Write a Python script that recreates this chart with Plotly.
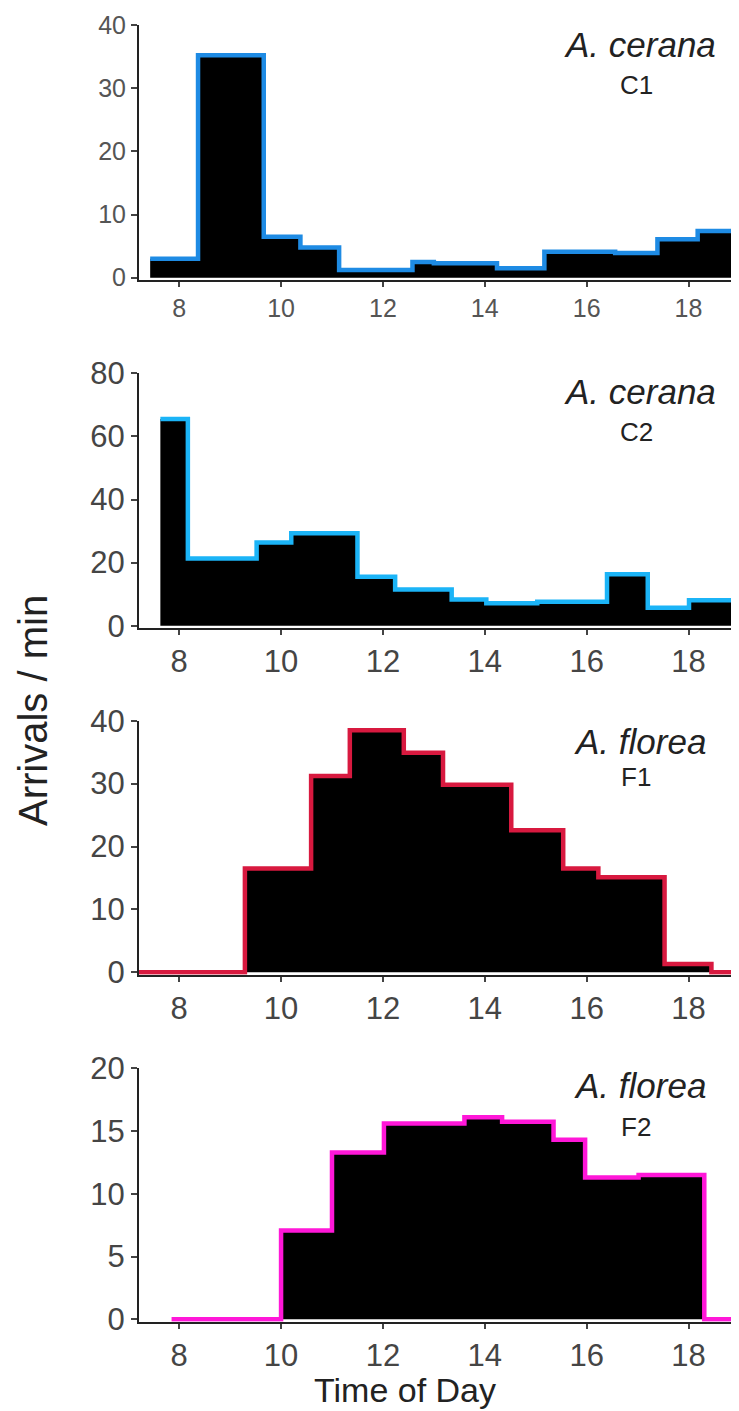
import plotly.graph_objects as go

# ---------------- data ----------------
hour_ticks = [8, 10, 12, 14, 16, 18]

c1_edges = [7.43, 8.37, 9.66, 10.38, 11.14, 12.58, 13.0, 14.24, 15.17, 16.56, 17.39, 18.18, 19.5]
c1_vals = [3.0, 35.2, 6.5, 4.8, 1.2, 2.5, 2.3, 1.5, 4.1, 3.9, 6.1, 7.4]

c2_edges = [7.63, 8.17, 9.52, 10.2, 11.5, 12.24, 13.35, 14.03, 15.03, 16.4, 17.2, 18.01, 19.5]
c2_vals = [65.5, 21.3, 26.4, 29.3, 15.5, 11.5, 8.3, 7.1, 7.6, 16.3, 5.7, 8.1]

f1_edges = [7.0, 9.29, 10.59, 11.35, 12.41, 13.18, 14.52, 15.54, 16.23, 17.53, 18.45, 19.5]
f1_vals = [0, 16.5, 31.2, 38.5, 34.9, 29.8, 22.6, 16.5, 15.1, 1.3, 0]

f2_edges = [7.85, 10.0, 11.0, 12.02, 13.6, 14.34, 15.35, 15.97, 17.02, 18.31, 19.5]
f2_vals = [0, 7.07, 13.3, 15.6, 16.1, 15.75, 14.3, 11.3, 11.5, 0]

species = ["A. cerana", "A. cerana", "A. florea", "A. florea"]
colonies = ["C1", "C2", "F1", "F2"]
colors = ["#1E8BE4", "#1BB4F7", "#D8193F", "#FF17D8"]
y_ticks = [[0, 10, 20, 30, 40], [0, 20, 40, 60, 80], [0, 10, 20, 30, 40], [0, 5, 10, 15, 20]]
y_max = [40, 80, 40, 20]

# ---------------- layout geometry (target pixels on screen) ----------------
W, H = 739, 1411
OFF = 8            # page offset of the plot div
AX_X = 139         # screen x of the left edge of the plot area
Lf = AX_X - OFF
PWf = W - Lf
FONT = "Liberation Sans, Arial, Helvetica, sans-serif"


def hour_at(px):
    return 8 + (px - 179.2) / 50.93


def px_x(px):
    return (px - OFF - Lf) / PWf


def px_y(py):
    return 1 - (py - OFF) / H


panel_px = [(25, 277.7), (373.3, 625.7), (720.7, 972.3), (1068.3, 1319.3)]
label_px = [(44, 85), (391, 432), (741, 777), (1085, 1127)]
tick_size = [25, 31, 31, 31]
tick_col = ["#555555", "#454545", "#454545", "#454545"]

series = [(c1_edges, c1_vals), (c2_edges, c2_vals), (f1_edges, f1_vals), (f2_edges, f2_vals)]

fig = go.Figure()
layout = dict(
    width=W, height=H,
    margin=dict(l=Lf, r=0, t=0, b=0, pad=0, autoexpand=False),
    paper_bgcolor="white", plot_bgcolor="white",
    showlegend=False,
    font=dict(family=FONT, color="#333"),
)
annotations = []

for i, ((edges, vals), col) in enumerate(zip(series, colors)):
    n = i + 1
    xa = "x" if n == 1 else f"x{n}"
    ya = "y" if n == 1 else f"y{n}"
    fig.add_trace(go.Scatter(
        x=edges, y=list(vals) + [vals[-1]],
        mode="lines", line=dict(shape="hv", color=col, width=4.5),
        fill="tozeroy", fillcolor="black",
        xaxis=xa, yaxis=ya, hoverinfo="skip",
    ))
    top, zero = panel_px[i]
    ppu = (zero - top) / y_max[i]
    pad = 2.5
    ymin = -pad / ppu
    dom = [px_y(zero + pad), px_y(top)]
    xkey = "xaxis" if n == 1 else f"xaxis{n}"
    ykey = "yaxis" if n == 1 else f"yaxis{n}"
    layout[xkey] = dict(
        domain=[0, 1], anchor=ya, range=[hour_at(AX_X), hour_at(W + OFF)],
        tickmode="array", tickvals=hour_ticks, ticktext=[str(h) for h in hour_ticks],
        showline=True, linecolor="#222", linewidth=2,
        ticks="outside", ticklen=5, tickwidth=2, tickcolor="#444",
        tickfont=dict(size=tick_size[i], color=tick_col[i], family=FONT),
        showgrid=False, zeroline=False, fixedrange=True, automargin=False,
    )
    layout[ykey] = dict(
        domain=dom, anchor=xa, range=[ymin, y_max[i]],
        tickmode="array", tickvals=y_ticks[i], ticktext=[str(t) for t in y_ticks[i]],
        showline=True, linecolor="#222", linewidth=2,
        ticks="outside", ticklen=6, tickwidth=2, tickcolor="#444",
        tickfont=dict(size=tick_size[i], color=tick_col[i], family=FONT),
        showgrid=False, zeroline=False, fixedrange=True, automargin=False,
    )
    sp_y, col_y = label_px[i]
    annotations.append(dict(
        text=f"<i>{species[i]}</i>", xref="paper", yref="paper",
        x=px_x(640), y=px_y(sp_y), xanchor="center", yanchor="middle",
        showarrow=False, font=dict(size=35, color="#222", family=FONT),
    ))
    annotations.append(dict(
        text=colonies[i], xref="paper", yref="paper",
        x=px_x(636), y=px_y(col_y), xanchor="center", yanchor="middle",
        showarrow=False, font=dict(size=26, color="#222", family=FONT),
    ))

annotations.append(dict(
    text="Arrivals / min", xref="paper", yref="paper",
    x=px_x(33), y=px_y(711), xanchor="center", yanchor="middle",
    textangle=-90, showarrow=False, font=dict(size=40, color="#222", family=FONT),
))
annotations.append(dict(
    text="Time of Day", xref="paper", yref="paper",
    x=px_x(405), y=px_y(1390), xanchor="center", yanchor="middle",
    showarrow=False, font=dict(size=34, color="#222", family=FONT),
))
layout["annotations"] = annotations
fig.update_layout(**layout)

fig.write_html("out.html")
